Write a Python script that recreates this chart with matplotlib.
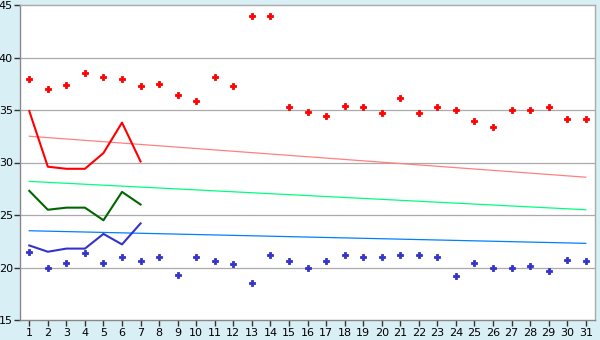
import matplotlib
matplotlib.use("Agg")
import matplotlib.pyplot as plt

days = list(range(1, 32))

# daily maxima (red points) and minima (blue points)
max_points = [38.0, 37.0, 37.4, 38.5, 38.1, 38.0, 37.3, 37.5, 36.4, 35.9,
              38.1, 37.3, 44.0, 44.0, 35.3, 34.8, 34.4, 35.4, 35.3, 34.7,
              36.1, 34.7, 35.3, 35.0, 34.0, 33.4, 35.0, 35.0, 35.3, 34.1, 34.1]
min_points = [21.5, 20.0, 20.4, 21.4, 20.4, 21.0, 20.6, 21.0, 19.3, 21.0,
              20.6, 20.3, 18.5, 21.2, 20.6, 20.0, 20.6, 21.2, 21.0, 21.0,
              21.2, 21.2, 21.0, 19.2, 20.4, 20.0, 20.0, 20.1, 19.7, 20.7, 20.6]

# current week lines (days 1-7)
week_days = [1, 2, 3, 4, 5, 6, 7]
week_max = [34.9, 29.6, 29.4, 29.4, 30.9, 33.8, 30.1]
week_mean = [27.3, 25.5, 25.7, 25.7, 24.5, 27.2, 26.0]
week_min = [22.1, 21.5, 21.8, 21.8, 23.2, 22.2, 24.2]

# trend lines (start / end values)
trend_x = [1, 31]
trend_max = [32.5, 28.6]
trend_mean = [28.2, 25.5]
trend_min = [23.5, 22.3]

bg = "#d9eff6"
fig = plt.figure(figsize=(6, 3.4), dpi=100, facecolor=bg)
ax = fig.add_axes([20 / 600, 20 / 340, 575 / 600, 315 / 340])
ax.set_facecolor("white")

for y in [20, 25, 30, 35, 40]:
    ax.axhline(y, color="#aaaaaa", lw=0.9, zorder=1)

ax.plot(trend_x, trend_max, color="#ff8080", lw=0.9, zorder=2)
ax.plot(trend_x, trend_mean, color="#00ff80", lw=0.9, zorder=2)
ax.plot(trend_x, trend_min, color="#0080ff", lw=0.9, zorder=2)

ax.plot(week_days, week_max, color="#ff0000", lw=1.5, zorder=3)
ax.plot(week_days, week_mean, color="#006600", lw=1.5, zorder=3)
ax.plot(week_days, week_min, color="#3333cc", lw=1.5, zorder=3)

ax.plot(days, max_points, ls="none", marker="P", ms=4.5, color="#ff0000",
        mew=0.6, zorder=4)
ax.plot(days, min_points, ls="none", marker="P", ms=4.5, color="#3333cc",
        mew=0.6, zorder=4)

ax.set_xlim(0.5, 31.5)
ax.set_ylim(15, 45)
ax.set_xticks(days)
ax.set_xticklabels([str(d) for d in days])
ax.set_yticks([15, 20, 25, 30, 35, 40, 45])

for side in ["top", "right"]:
    ax.spines[side].set_color("#aaaaaa")
for side in ["left", "bottom"]:
    ax.spines[side].set_color("#888888")
for s in ax.spines.values():
    s.set_linewidth(1)

ax.tick_params(axis="both", colors="#333333", labelcolor="black",
               labelsize=8, length=4, width=1, pad=2)
ax.tick_params(axis="y", pad=1)

fig.savefig("out.png", dpi=100, facecolor=bg)
